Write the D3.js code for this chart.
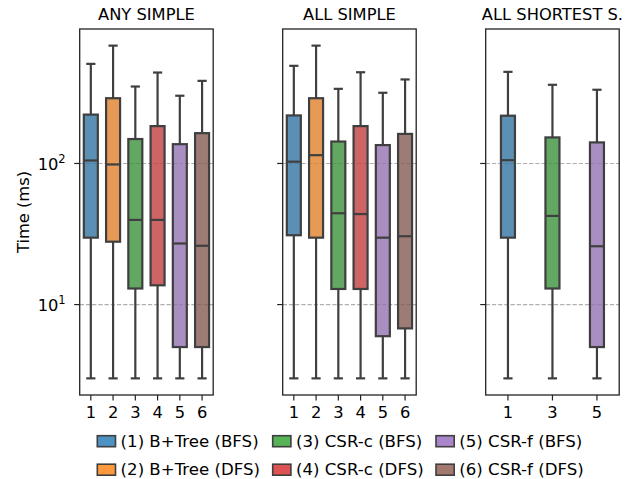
<!DOCTYPE html>
<html><head><meta charset="utf-8">
<script src="https://cdn.jsdelivr.net/npm/d3@7"></script>
<style>body{margin:0;background:#fff} text{font-family:"DejaVu Sans",sans-serif;fill:#000}</style>
</head><body><svg id="c" width="637" height="479"></svg>
<script>
// ---------- data ----------
const panelTitles = ["ANY SIMPLE", "ALL SIMPLE", "ALL SHORTEST S."];
const panelCategories = [["1","2","3","4","5","6"], ["1","2","3","4","5","6"], ["1","3","5"]];
const seriesLabels = ["(1) B+Tree (BFS)", "(2) B+Tree (DFS)", "(3) CSR-c (BFS)", "(4) CSR-c (DFS)", "(5) CSR-f (BFS)", "(6) CSR-f (DFS)"];
const seriesColors = ["#1f77b4", "#ff7f0e", "#2ca02c", "#d62728", "#9467bd", "#8c564b"];
const yTickValues = [10, 100];
const yLabel = "Time (ms)";

// ANY SIMPLE
const anyLow  = [3, 3, 3, 3, 3, 3];
const anyQ1   = [29.8, 27.9, 13.0, 13.7, 5.0, 5.0];
const anyMed  = [105, 98.4, 39.8, 39.8, 27.1, 26.1];
const anyQ3   = [222, 290, 149, 184, 137, 164];
const anyHigh = [508, 684, 351, 441, 302, 385];
// ALL SIMPLE
const allLow  = [3, 3, 3, 3, 3, 3];
const allQ1   = [31.0, 29.8, 12.9, 12.9, 5.97, 6.78];
const allMed  = [103, 114.5, 44.4, 43.8, 29.8, 30.5];
const allQ3   = [219, 290, 143, 184, 135, 162];
const allHigh = [492, 684, 338, 443, 317, 394];
// ALL SHORTEST S.
const shLow  = [3, 3, 3];
const shQ1   = [29.8, 13.0, 5.0];
const shMed  = [105.5, 42.5, 25.9];
const shQ3   = [218, 153, 141];
const shHigh = [446, 361, 333];

const panelStats = [
  {low: anyLow, q1: anyQ1, med: anyMed, q3: anyQ3, high: anyHigh},
  {low: allLow, q1: allQ1, med: allMed, q3: allQ3, high: allHigh},
  {low: shLow, q1: shQ1, med: shMed, q3: shQ3, high: shHigh}
];

// ---------- layout ----------
const svg = d3.select("#c");
svg.append("rect").attr("width", 637).attr("height", 479).attr("fill", "#fff");
const panelLeft = [79.7, 282.7, 485.7];
const panelW = 133.5;
const plotTop = 29, plotBottom = 395;
const boxW = 14, capW = 7;
const edge = "#3f3f3f";
const fs = 16.3, legFs = 16.6;

const allVals = panelStats.flatMap(p => p.low.concat(p.high));
const lo = Math.log10(d3.min(allVals)), hi = Math.log10(d3.max(allVals));
const pad = 0.05 * (hi - lo);
const y = d3.scaleLog().domain([Math.pow(10, lo - pad), Math.pow(10, hi + pad)]).range([plotBottom, plotTop]);

function boxColor(c) {
  const h = d3.hsl(c); h.s *= 0.75; return h.formatHex();
}

panelStats.forEach((st, pi) => {
  const cats = panelCategories[pi];
  const g = svg.append("g");
  const x = d3.scaleBand().domain(cats).range([panelLeft[pi], panelLeft[pi] + panelW]);
  const cx = c => x(c) + x.bandwidth() / 2;

  g.selectAll("line.grid").data(yTickValues).join("line")
    .attr("x1", panelLeft[pi]).attr("x2", panelLeft[pi] + panelW)
    .attr("y1", d => y(d)).attr("y2", d => y(d))
    .attr("stroke", "#b0b0b0").attr("stroke-width", 1.1).attr("stroke-dasharray", "4.3,1.9");

  cats.forEach((c, i) => {
    const si = +c - 1;
    const xc = cx(c);
    g.append("line").attr("x1", xc).attr("x2", xc).attr("y1", y(st.low[i])).attr("y2", y(st.q1[i]))
      .attr("stroke", edge).attr("stroke-width", 2.2);
    g.append("line").attr("x1", xc).attr("x2", xc).attr("y1", y(st.q3[i])).attr("y2", y(st.high[i]))
      .attr("stroke", edge).attr("stroke-width", 2.2);
    [st.low[i], st.high[i]].forEach(v => {
      g.append("line").attr("x1", xc - capW / 2).attr("x2", xc + capW / 2).attr("y1", y(v)).attr("y2", y(v))
        .attr("stroke", edge).attr("stroke-width", 2.2).attr("stroke-linecap", "square");
    });
    g.append("rect").attr("x", xc - boxW / 2).attr("width", boxW)
      .attr("y", y(st.q3[i])).attr("height", y(st.q1[i]) - y(st.q3[i]))
      .attr("fill", boxColor(seriesColors[si])).attr("fill-opacity", 0.8)
      .attr("stroke", edge).attr("stroke-width", 2.2);
    g.append("line").attr("x1", xc - boxW / 2).attr("x2", xc + boxW / 2).attr("y1", y(st.med[i])).attr("y2", y(st.med[i]))
      .attr("stroke", edge).attr("stroke-width", 2.2);
  });

  g.append("rect").attr("x", panelLeft[pi]).attr("y", plotTop).attr("width", panelW).attr("height", plotBottom - plotTop)
    .attr("fill", "none").attr("stroke", "#222").attr("stroke-width", 1.3);

  cats.forEach(c => {
    g.append("line").attr("x1", cx(c)).attr("x2", cx(c)).attr("y1", plotBottom).attr("y2", plotBottom + 5.5)
      .attr("stroke", "#222").attr("stroke-width", 1.2);
    g.append("text").attr("x", cx(c)).attr("y", plotBottom + 23.3).attr("text-anchor", "middle")
      .attr("font-size", fs).text(c);
  });
  yTickValues.forEach(v => {
    g.append("line").attr("x1", panelLeft[pi] - 5.5).attr("x2", panelLeft[pi]).attr("y1", y(v)).attr("y2", y(v))
      .attr("stroke", "#222").attr("stroke-width", 1.2);
    if (pi === 0) {
      const t = g.append("text").attr("x", panelLeft[pi] - 14).attr("y", y(v) + 6.5)
        .attr("text-anchor", "end").attr("font-size", fs);
      t.append("tspan").text("10");
      t.append("tspan").attr("font-size", 11.5).attr("dy", -7).text(String(Math.round(Math.log10(v))));
    }
  });
  g.append("text").attr("x", panelLeft[pi] + panelW / 2).attr("y", 19.5).attr("text-anchor", "middle")
    .attr("font-size", fs).text(panelTitles[pi]);
});

svg.append("text").attr("transform", `translate(28.5,${(plotTop + plotBottom) / 2}) rotate(-90)`)
  .attr("text-anchor", "middle").attr("font-size", fs).text(yLabel);

const legX = [97.3, 272.7, 436];
const legY = [435.7, 464.2];
seriesLabels.forEach((lab, i) => {
  const col = Math.floor(i / 2), row = i % 2;
  svg.append("rect").attr("x", legX[col]).attr("y", legY[row]).attr("width", 18.2).attr("height", 11)
    .attr("fill", seriesColors[i]).attr("fill-opacity", 0.8).attr("stroke", edge).attr("stroke-width", 1.6);
  svg.append("text").attr("x", legX[col] + 23.3).attr("y", legY[row] + 11).attr("font-size", legFs).text(lab);
});
</script></body></html>
